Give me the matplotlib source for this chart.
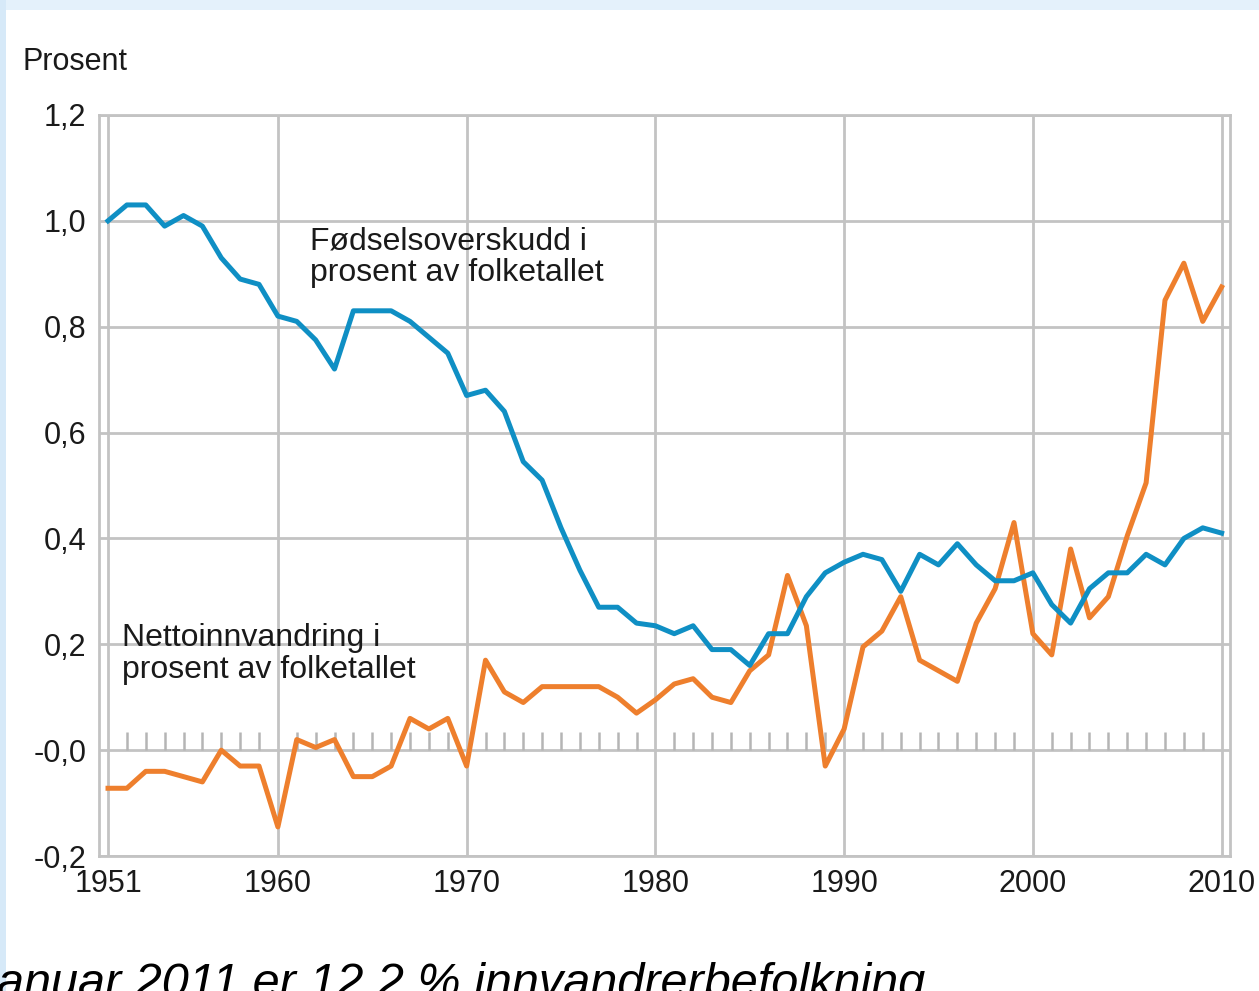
import numpy as np
import matplotlib
matplotlib.use('Agg')
from matplotlib import pyplot as plt
from matplotlib.patches import Rectangle

plt.rcParams['font.family'] = ['Liberation Sans', 'DejaVu Sans']

# årstall og verdier lest av figuren
years = list(range(1951, 2011))

# fødselsoverskudd i prosent av folketallet
birth_surplus = [1.00, 1.03, 1.03, 0.99, 1.01, 0.99, 0.93, 0.89, 0.88, 0.82,
                 0.81, 0.775, 0.72, 0.83, 0.83, 0.83, 0.81, 0.78, 0.75, 0.67,
                 0.68, 0.64, 0.545, 0.51, 0.42, 0.34, 0.27, 0.27, 0.24, 0.235,
                 0.22, 0.235, 0.19, 0.19, 0.16, 0.22, 0.22, 0.29, 0.335, 0.355,
                 0.37, 0.36, 0.30, 0.37, 0.35, 0.39, 0.35, 0.32, 0.32, 0.335,
                 0.275, 0.24, 0.305, 0.335, 0.335, 0.37, 0.35, 0.40, 0.42, 0.41]

# nettoinnvandring i prosent av folketallet
net_migration = [-0.072, -0.072, -0.04, -0.04, -0.05, -0.06, 0.0, -0.03, -0.03, -0.145,
                 0.02, 0.005, 0.02, -0.05, -0.05, -0.03, 0.06, 0.04, 0.06, -0.03,
                 0.17, 0.11, 0.09, 0.12, 0.12, 0.12, 0.12, 0.10, 0.07, 0.095,
                 0.125, 0.135, 0.10, 0.09, 0.15, 0.18, 0.33, 0.235, -0.03, 0.04,
                 0.195, 0.225, 0.29, 0.17, 0.15, 0.13, 0.24, 0.305, 0.43, 0.22,
                 0.18, 0.38, 0.25, 0.29, 0.405, 0.505, 0.85, 0.92, 0.81, 0.875]

x_ticks = [1951, 1960, 1970, 1980, 1990, 2000, 2010]
y_ticks = [-0.2, 0.0, 0.2, 0.4, 0.6, 0.8, 1.0, 1.2]
y_labels = ['-0,2', '-0,0', '0,2', '0,4', '0,6', '0,8', '1,0', '1,2']

blue = '#0f8fc4'
orange = '#ee7f2d'
grid_c = '#c3c3c3'
txt_c = '#1a1a1a'

fig = plt.figure(figsize=(12.59, 9.91), dpi=100)
fig.patch.set_facecolor('white')

# lyseblå kant fra lysbildet
fig.patches.append(Rectangle((0, 0.99), 1, 0.01, transform=fig.transFigure,
                             facecolor='#e4f1fb', edgecolor='none', zorder=0))
fig.patches.append(Rectangle((0, 0), 0.005, 1, transform=fig.transFigure,
                             facecolor='#d6e9f8', edgecolor='none', zorder=0))

ax = fig.add_axes([0.0786, 0.1362, 0.898, 0.7478])
ax.set_xlim(1950.52, 2010.42)
ax.set_ylim(-0.2, 1.2)

for v in y_ticks:
    ax.axhline(v, color=grid_c, lw=2.0, zorder=1)
for t in x_ticks:
    ax.axvline(t, color=grid_c, lw=2.0, zorder=1)

# små streker på nullinjen
minor = [y for y in years if y not in x_ticks]
ax.vlines(minor, 0, 0.035, color='#b5b5b5', lw=1.8, zorder=1)

ax.plot(years, net_migration, color=orange, lw=3.6, zorder=3, solid_joinstyle='round')
ax.plot(years, birth_surplus, color=blue, lw=3.6, zorder=4, solid_joinstyle='round')

ax.set_xticks(x_ticks)
ax.set_xticklabels([str(t) for t in x_ticks])
ax.set_yticks(y_ticks)
ax.set_yticklabels(y_labels)
ax.tick_params(length=0, labelsize=22, colors=txt_c, pad=9)
for s in ax.spines.values():
    s.set_color(grid_c)
    s.set_linewidth(2.0)

ax.text(1961.7, 0.99, 'Fødselsoverskudd i\nprosent av folketallet',
        fontsize=23, color=txt_c, va='top', ha='left', linespacing=1.1)
ax.text(1951.75, 0.24, 'Nettoinnvandring i\nprosent av folketallet',
        fontsize=23, color=txt_c, va='top', ha='left', linespacing=1.1)

fig.text(0.0175, 0.953, 'Prosent', fontsize=22, color=txt_c, va='top', ha='left')

fig.text(-0.002, -0.006, 'anuar 2011 er 12,2 % innvandrerbefolkning',
         fontsize=35, style='italic', color='black', va='baseline', ha='left')

plt.savefig('out.png', dpi=100)
